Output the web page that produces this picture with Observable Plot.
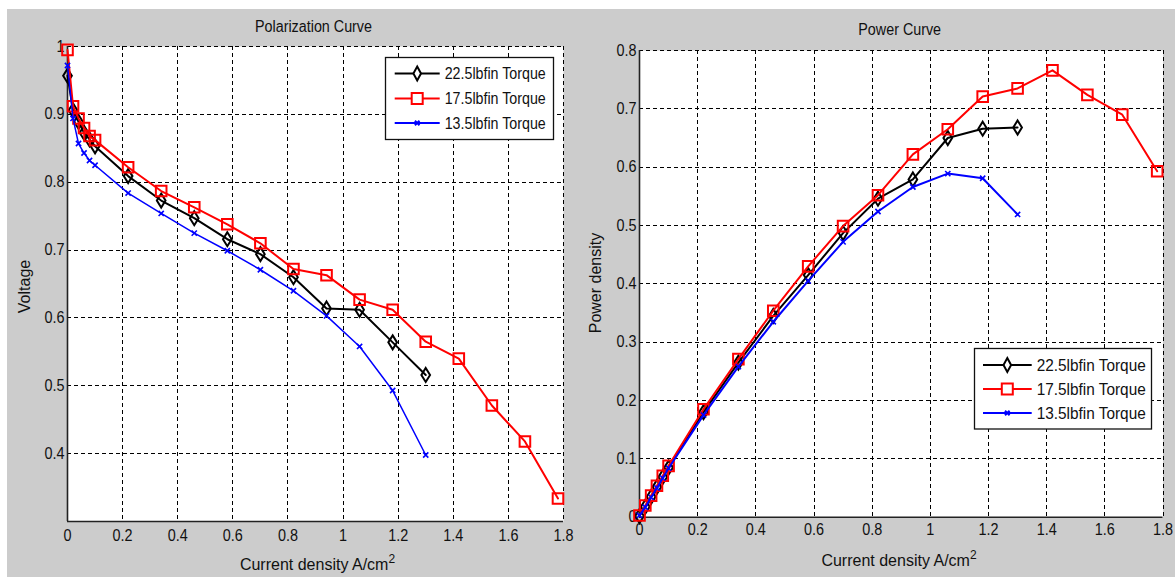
<!DOCTYPE html>
<html><head><meta charset="utf-8">
<script src="https://cdn.jsdelivr.net/npm/d3@7"></script>
<script src="https://cdn.jsdelivr.net/npm/@observablehq/plot@0.6"></script>
<style>
html,body{margin:0;padding:0;background:#fff;}
#root{position:relative;width:1175px;height:577px;overflow:hidden;font-family:"Liberation Sans",Arial,sans-serif;}
#bg{position:absolute;left:7px;top:9px;width:1168px;height:568px;background:#cccccc;}
.panel{position:absolute;}
.panel svg{max-width:none !important;}
#overlay{position:absolute;left:0;top:0;}
</style></head><body><div id="root"><div id="bg"></div></div>
<script>
// ---------------- data ----------------
const current = [0, 0.02, 0.04, 0.06, 0.08, 0.10, 0.22, 0.34, 0.46, 0.58, 0.70, 0.82, 0.94, 1.06, 1.18, 1.30, 1.42, 1.54, 1.66, 1.78];
const seriesNames = ["22.5lbfin Torque", "17.5lbfin Torque", "13.5lbfin Torque"];
const seriesColors = ["#000000", "#ff0000", "#0000ff"];

const voltage225 = [0.957, 0.906, 0.889, 0.873, 0.863, 0.853, 0.809, 0.773, 0.747, 0.716, 0.694, 0.660, 0.614, 0.612, 0.564, 0.516];
const voltage175 = [0.995, 0.912, 0.894, 0.880, 0.868, 0.862, 0.822, 0.787, 0.763, 0.738, 0.710, 0.672, 0.663, 0.627, 0.612, 0.565, 0.540, 0.471, 0.418, 0.334];
const voltage135 = [0.972, 0.894, 0.857, 0.843, 0.832, 0.825, 0.784, 0.754, 0.725, 0.699, 0.671, 0.640, 0.603, 0.558, 0.493, 0.398];

const power225 = [0.002, 0.018, 0.035, 0.052, 0.069, 0.085, 0.180, 0.265, 0.345, 0.415, 0.487, 0.546, 0.579, 0.650, 0.666, 0.668];
const power175 = [0.003, 0.020, 0.037, 0.054, 0.071, 0.088, 0.185, 0.271, 0.354, 0.430, 0.499, 0.552, 0.622, 0.665, 0.721, 0.735, 0.766, 0.724, 0.690, 0.593];
const power135 = [0.003, 0.017, 0.034, 0.050, 0.067, 0.084, 0.175, 0.258, 0.335, 0.405, 0.472, 0.524, 0.566, 0.589, 0.581, 0.519];

const xTicks = [0, 0.2, 0.4, 0.6, 0.8, 1.0, 1.2, 1.4, 1.6, 1.8];
const voltTicks = [0.4, 0.5, 0.6, 0.7, 0.8, 0.9, 1.0];
const powerTicks = [0, 0.1, 0.2, 0.3, 0.4, 0.5, 0.6, 0.7, 0.8];

// ---------------- helpers ----------------
const fmt = d => String(+(+d).toFixed(1));
function mkSymbol(fn) { return { draw(ctx, size) { fn(ctx, Math.sqrt(size / Math.PI)); } }; }
const tallDiamond = mkSymbol((c, r) => { c.moveTo(0, -r); c.lineTo(0.62 * r, 0); c.lineTo(0, r); c.lineTo(-0.62 * r, 0); c.closePath(); });
const squareSym = mkSymbol((c, r) => { c.moveTo(-r, -r); c.lineTo(r, -r); c.lineTo(r, r); c.lineTo(-r, r); c.closePath(); });
const xSym = mkSymbol((c, r) => { c.moveTo(-r, -r); c.lineTo(r, r); c.moveTo(-r, r); c.lineTo(r, -r); });
const symbols = [tallDiamond, squareSym, xSym];
const symbolR = [7, 5.3, 2.6];

function rows(values) { return values.map((v, i) => ({x: current[i], y: v})); }

function squish(el, k) {
  el.querySelectorAll("text").forEach(t => {
    const w = t.getComputedTextLength();
    if (w > 0) { t.setAttribute("textLength", (w * k).toFixed(2)); t.setAttribute("lengthAdjust", "spacingAndGlyphs"); }
  });
}

function panel({series, yDomain, yTicks, left, top, width, height, margins, padX, widths}) {
  const marks = [
    Plot.frame({fill: "white", stroke: "none"}),
    Plot.ruleX(xTicks, {stroke: "#000", strokeWidth: 1, strokeDasharray: "4,3", shapeRendering: "crispEdges"}),
    Plot.ruleY(yTicks, {stroke: "#000", strokeWidth: 1, strokeDasharray: "4,3", shapeRendering: "crispEdges"}),
    Plot.ruleX([0], {stroke: "#222", strokeWidth: 1.6}),
    Plot.ruleY([yDomain[0]], {stroke: "#222", strokeWidth: 1.6})
  ];
  series.forEach((vals, i) => {
    const d = rows(vals);
    marks.push(Plot.line(d, {x: "x", y: "y", stroke: seriesColors[i], strokeWidth: widths[i]}));
    marks.push(Plot.dot(d, {x: "x", y: "y", symbol: symbols[i], r: symbolR[i], stroke: seriesColors[i], fill: "none", strokeWidth: i === 2 ? 1.6 : 2}));
  });
  const svg = Plot.plot({
    width, height,
    marginLeft: margins[0], marginRight: margins[1], marginTop: margins[2], marginBottom: margins[3],
    style: {background: "transparent", fontSize: "16px", fontFamily: '"Liberation Sans", Arial, sans-serif', color: "#111", overflow: "visible"},
    x: {domain: [0, 1.8], ticks: xTicks, tickSize: 0, tickPadding: padX, tickFormat: fmt, label: null},
    y: {domain: yDomain, ticks: yTicks, tickSize: 0, tickPadding: 3, tickFormat: fmt, label: null},
    marks
  });
  const div = document.createElement("div");
  div.className = "panel";
  div.style.left = left + "px"; div.style.top = top + "px";
  div.appendChild(svg);
  document.getElementById("root").appendChild(div);
  squish(svg, 0.9);
}

panel({series: [voltage225, voltage175, voltage135], yDomain: [0.3, 1], yTicks: voltTicks,
  left: 7, top: 9, width: 568, height: 568, margins: [60, 12, 37, 56], padX: 8, widths: [2, 2, 1.5]});
panel({series: [power225, power175, power135], yDomain: [0, 0.8], yTicks: powerTicks,
  left: 575, top: 9, width: 600, height: 568, margins: [64, 12.5, 41, 60.3], padX: 6, widths: [2, 2, 2]});

// ---------------- overlay: titles, axis labels, legends ----------------
const ov = d3.create("svg").attr("id", "overlay").attr("width", 1175).attr("height", 577)
  .attr("font-family", '"Liberation Sans", Arial, sans-serif').attr("font-size", 16).attr("fill", "#111");
document.getElementById("root").appendChild(ov.node());

function label(x, y, txt, k, opts = {}) {
  const t = ov.append("text").attr("x", x).attr("y", y).attr("text-anchor", opts.anchor || "middle").text(txt);
  if (opts.rotate) t.attr("transform", `rotate(-90 ${x} ${y})`);
  if (k !== 1) { const w = t.node().getComputedTextLength(); t.attr("textLength", w * k).attr("lengthAdjust", "spacingAndGlyphs"); }
  return t;
}
label(313.5, 32, "Polarization Curve", 0.895);
label(899.7, 35, "Power Curve", 0.895);
label(29.5, 286.5, "Voltage", 1, {rotate: true});
label(600.5, 283, "Power density", 1, {rotate: true});

function xlabel(x, y) {
  const t = ov.append("text").attr("x", x).attr("y", y).attr("text-anchor", "middle");
  t.append("tspan").text("Current density A/cm");
  t.append("tspan").attr("font-size", 12).attr("dy", -7).text("2");
}
xlabel(317.5, 570);
xlabel(899, 566);

const markerPaths = [
  "M0,-7L3.8,0L0,7L-3.8,0Z",
  "M-5.5,-5.5H5.5V5.5H-5.5Z",
  "M-2.3,-2.3L2.3,2.3M-2.3,2.3L2.3,-2.3"
];
function legend({x, y, w, h, rowY, lx1, lx2, mx, tx, k}) {
  const g = ov.append("g");
  g.append("rect").attr("x", x).attr("y", y).attr("width", w).attr("height", h)
    .attr("fill", "white").attr("stroke", "#111").attr("stroke-width", 1.3);
  seriesNames.forEach((name, i) => {
    g.append("line").attr("x1", lx1).attr("x2", lx2).attr("y1", rowY[i]).attr("y2", rowY[i])
      .attr("stroke", seriesColors[i]).attr("stroke-width", 2.2);
    g.append("path").attr("d", markerPaths[i]).attr("transform", `translate(${mx},${rowY[i]})`)
      .attr("fill", i === 2 ? "none" : "white").attr("stroke", seriesColors[i]).attr("stroke-width", 2);
    const t = g.append("text").attr("x", tx).attr("y", rowY[i] + 5.6).attr("text-anchor", "start").text(name);
    const wl = t.node().getComputedTextLength();
    t.attr("textLength", wl * k).attr("lengthAdjust", "spacingAndGlyphs");
  });
}
legend({x: 385.5, y: 57.5, w: 168, h: 82, rowY: [73.5, 98.5, 123], lx1: 394.7, lx2: 439.7, mx: 417.2, tx: 444.7, k: 0.89});
legend({x: 974.5, y: 348.5, w: 177, h: 80.5, rowY: [365, 389, 413], lx1: 983, lx2: 1031.7, mx: 1007.3, tx: 1036.7, k: 0.96});
</script></body></html>
